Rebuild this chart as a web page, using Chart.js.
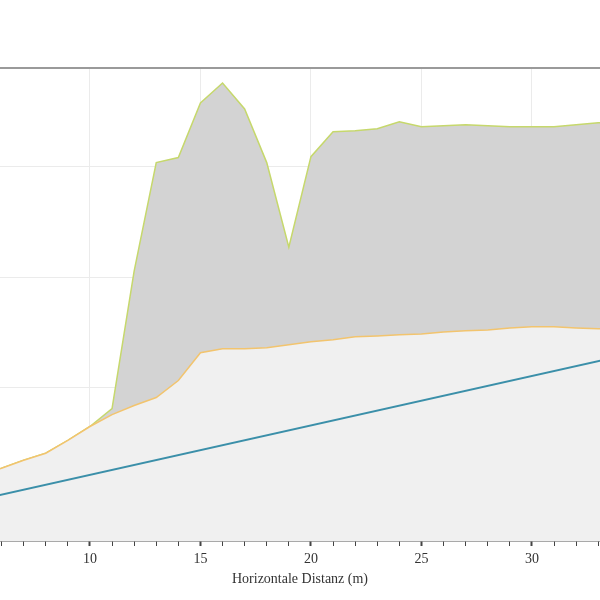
<!DOCTYPE html>
<html>
<head>
<meta charset="utf-8">
<script src="https://cdn.jsdelivr.net/npm/chart.js@4"></script>
<style>
    html, body { margin: 0; padding: 0; background: #fff; }
    #profilCanvas { display: block; }
</style>
</head>
<body>
<canvas id="profilCanvas" width="600" height="600"></canvas>
<script>
//Horizontal distance in metres (one sample per metre)
const distanz = [5, 6, 7, 8, 9, 10, 11, 12, 13, 14, 15, 16, 17, 18, 19, 20,
                 21, 22, 23, 24, 25, 26, 27, 28, 29, 30, 31, 32, 33, 34];

//Upper surface (green line, grey area)
const oberflaeche = [1.04, 1.35, 1.71, 2.03, 2.61, 3.24, 4.05, 10.27, 15.18, 15.41,
                     17.88, 18.78, 17.61, 15.18, 11.35, 15.45, 16.58, 16.62, 16.71, 17.03,
                     16.80, 16.85, 16.89, 16.85, 16.80, 16.80, 16.80, 16.89, 16.98, 16.98];

//Lower surface (orange line, light area)
const untergrund = [1.04, 1.35, 1.71, 2.03, 2.61, 3.24, 3.78, 4.19, 4.55, 5.32,
                    6.58, 6.76, 6.76, 6.80, 6.94, 7.07, 7.16, 7.30, 7.34, 7.39,
                    7.43, 7.52, 7.57, 7.61, 7.70, 7.75, 7.75, 7.70, 7.66, 7.66];

//Straight reference line (blue), start and end point
const linieX = [5, 35];
const linieY = [-0.07, 6.64];

//Visible window of the (cropped) plot
const xMin = 5.93, xMax = 33.08;
const yMin = -1.94, yMax = 19.46;
const xTicks = [6, 7, 8, 9, 10, 11, 12, 13, 14, 15, 16, 17, 18, 19, 20,
                21, 22, 23, 24, 25, 26, 27, 28, 29, 30, 31, 32, 33];
const yTicks = [0, 5, 10, 15];

const toPoints = (xs, ys) => xs.map((x, i) => ({ x: x, y: ys[i] }));

//Scales add a few px of padding for their end labels; the plot here runs edge to edge
const noScalePadding = (scale) => {
    scale.paddingLeft = 0;
    scale.paddingRight = 0;
    scale.paddingTop = 0;
    scale.paddingBottom = 0;
};

const serif = '"Liberation Serif", "DejaVu Serif", serif';

const ctx = document.getElementById('profilCanvas').getContext('2d');

new Chart(ctx, {
    type: 'line',
    data: {
        datasets: [
            {
                label: 'Oberfläche',
                data: toPoints(distanz, oberflaeche),
                borderColor: '#c6d86c',
                backgroundColor: '#d3d3d3',
                borderWidth: 1.5,
                fill: 'start',
                order: 3,
            },
            {
                label: 'Untergrund',
                data: toPoints(distanz, untergrund),
                borderColor: '#f2c46e',
                backgroundColor: '#f0f0f0',
                borderWidth: 1.5,
                fill: 'start',
                order: 2,
            },
            {
                label: 'Linie',
                data: toPoints(linieX, linieY),
                borderColor: '#3b8fa9',
                borderWidth: 2,
                fill: false,
                order: 1,
            },
        ],
    },
    options: {
        responsive: false,
        animation: false,
        layout: { autoPadding: false, padding: { top: 68, bottom: 10, left: 0, right: 0 } },
        elements: {
            point: { radius: 0 },
            line: { tension: 0 },
        },
        plugins: {
            legend: { display: false },
            tooltip: { enabled: false },
        },
        scales: {
            x: {
                type: 'linear',
                position: 'bottom',
                min: xMin,
                max: xMax,
                afterBuildTicks: (scale) => { scale.ticks = xTicks.map(v => ({ value: v })); },
                afterFit: noScalePadding,
                grid: {
                    color: (c) => (c.tick && c.tick.value % 5 === 0) ? '#ebebeb' : 'rgba(0,0,0,0)',
                    tickColor: '#444',
                    tickWidth: (c) => (c.tick && c.tick.value % 5 === 0) ? 2 : 1,
                    tickLength: 5,
                },
                border: { display: true, color: '#555', width: 1.5 },
                ticks: {
                    autoSkip: false,
                    maxRotation: 0,
                    padding: 6,
                    color: '#333',
                    font: { family: serif, size: 14, lineHeight: 1 },
                    callback: (v) => (v % 5 === 0 ? v : ''),
                },
                title: {
                    display: true,
                    text: 'Horizontale Distanz (m)',
                    color: '#333',
                    padding: { top: 0, bottom: 4 },
                    font: { family: serif, size: 14, lineHeight: 1 },
                },
            },
            //Only used for the grey frame line along the top
            xTop: {
                type: 'linear',
                position: 'top',
                min: xMin,
                max: xMax,
                ticks: { display: false },
                grid: { drawOnChartArea: false, drawTicks: false },
                border: { display: true, color: '#9a9a9a', width: 2 },
                afterFit: (scale) => { noScalePadding(scale); scale.height = 0; },
            },
            y: {
                type: 'linear',
                min: yMin,
                max: yMax,
                afterBuildTicks: (scale) => { scale.ticks = yTicks.map(v => ({ value: v })); },
                ticks: { display: false },
                grid: { color: '#ebebeb', drawTicks: false },
                border: { display: false },
                afterFit: (scale) => { noScalePadding(scale); scale.width = 0; },
            },
        },
    },
});
</script>
</body>
</html>
